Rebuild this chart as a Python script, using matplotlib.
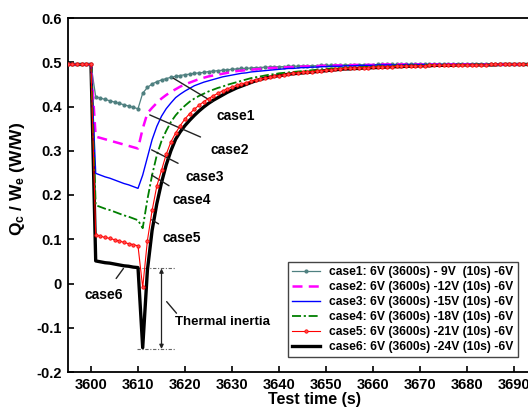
import matplotlib
matplotlib.use("Agg")
import matplotlib.pyplot as plt

plt.rcParams['font.family'] = ['Liberation Sans', 'DejaVu Sans']
plt.rcParams['font.weight'] = 'bold'
plt.rcParams['mathtext.fontset'] = 'custom'
plt.rcParams['mathtext.bf'] = 'Liberation Sans:bold'
plt.rcParams['mathtext.rm'] = 'Liberation Sans:bold'
plt.rcParams['mathtext.default'] = 'bf'

# ---- data ----
time_s = list(range(3595, 3701))

case1 = ([0.495] * 6 +
         [0.422, 0.419, 0.416, 0.413, 0.410, 0.407, 0.404, 0.401, 0.398, 0.395] +
         [0.430, 0.443, 0.451, 0.456, 0.460, 0.463, 0.466, 0.468, 0.470, 0.472,
          0.473, 0.475, 0.476, 0.477, 0.479, 0.480, 0.481, 0.482, 0.483, 0.484,
          0.485, 0.486, 0.486, 0.487, 0.488, 0.488, 0.489, 0.489, 0.490, 0.490] +
         [0.490, 0.491, 0.491, 0.491, 0.492, 0.492, 0.492, 0.492, 0.493, 0.493,
          0.493, 0.493, 0.493, 0.494, 0.494, 0.494, 0.494, 0.494, 0.494, 0.494,
          0.495, 0.495, 0.495, 0.495, 0.495, 0.495, 0.495, 0.495, 0.495, 0.495] +
         [0.495] * 30)

case2 = ([0.495] * 6 +
         [0.332, 0.329, 0.326, 0.323, 0.320, 0.317, 0.314, 0.311, 0.308, 0.305] +
         [0.350, 0.385, 0.397, 0.408, 0.418, 0.426, 0.433, 0.439, 0.445, 0.450,
          0.454, 0.458, 0.462, 0.465, 0.468, 0.470, 0.472, 0.474, 0.476, 0.478,
          0.480, 0.481, 0.482, 0.483, 0.484, 0.485, 0.486, 0.487, 0.487, 0.488] +
         [0.488, 0.489, 0.489, 0.490, 0.490, 0.491, 0.491, 0.491, 0.492, 0.492,
          0.492, 0.493, 0.493, 0.493, 0.493, 0.494, 0.494, 0.494, 0.494, 0.494,
          0.494, 0.495, 0.495, 0.495, 0.495, 0.495, 0.495, 0.495, 0.495, 0.495] +
         [0.495] * 30)

case3 = ([0.495] * 6 +
         [0.249, 0.245, 0.241, 0.238, 0.234, 0.230, 0.226, 0.223, 0.219, 0.215] +
         [0.245, 0.285, 0.325, 0.355, 0.378, 0.395, 0.408, 0.420, 0.428, 0.435,
          0.441, 0.447, 0.451, 0.455, 0.458, 0.461, 0.464, 0.467, 0.469, 0.471,
          0.473, 0.475, 0.476, 0.478, 0.479, 0.480, 0.481, 0.482, 0.483, 0.484] +
         [0.485, 0.486, 0.486, 0.487, 0.488, 0.488, 0.489, 0.489, 0.490, 0.490,
          0.491, 0.491, 0.491, 0.492, 0.492, 0.492, 0.493, 0.493, 0.493, 0.493,
          0.494, 0.494, 0.494, 0.494, 0.494, 0.494, 0.495, 0.495, 0.495, 0.495] +
         [0.495] * 30)

case4 = ([0.495] * 6 +
         [0.177, 0.173, 0.169, 0.166, 0.162, 0.158, 0.154, 0.151, 0.147, 0.143] +
         [0.125, 0.190, 0.245, 0.290, 0.322, 0.345, 0.365, 0.380, 0.392, 0.402,
          0.411, 0.418, 0.424, 0.429, 0.434, 0.438, 0.442, 0.445, 0.449, 0.452,
          0.455, 0.458, 0.461, 0.464, 0.466, 0.468, 0.470, 0.472, 0.473, 0.475] +
         [0.476, 0.477, 0.478, 0.479, 0.480, 0.481, 0.482, 0.483, 0.484, 0.485,
          0.486, 0.486, 0.487, 0.487, 0.488, 0.488, 0.489, 0.489, 0.490, 0.490,
          0.491, 0.491, 0.491, 0.492, 0.492, 0.492, 0.493, 0.493, 0.493, 0.493] +
         [0.494] * 10 + [0.495] * 20)

case5 = ([0.495] * 6 +
         [0.110, 0.107, 0.104, 0.102, 0.099, 0.096, 0.093, 0.090, 0.088, 0.085] +
         [-0.009, 0.097, 0.165, 0.220, 0.256, 0.292, 0.320, 0.340, 0.357, 0.372,
          0.384, 0.394, 0.403, 0.411, 0.418, 0.424, 0.430, 0.435, 0.440, 0.444,
          0.448, 0.451, 0.454, 0.457, 0.460, 0.462, 0.464, 0.466, 0.468, 0.470] +
         [0.472, 0.473, 0.475, 0.476, 0.477, 0.478, 0.479, 0.480, 0.481, 0.482,
          0.483, 0.484, 0.485, 0.486, 0.486, 0.487, 0.487, 0.488, 0.488, 0.489,
          0.489, 0.490, 0.490, 0.490, 0.491, 0.491, 0.491, 0.492, 0.492, 0.492] +
         [0.492, 0.493, 0.493, 0.493, 0.493, 0.493, 0.494, 0.494, 0.494, 0.494,
          0.494, 0.494, 0.494, 0.494, 0.495, 0.495, 0.495, 0.495, 0.495, 0.495,
          0.495, 0.495, 0.495, 0.495, 0.495, 0.495, 0.495, 0.495, 0.495, 0.495])

case6 = ([0.495] * 6 +
         [0.051, 0.049, 0.047, 0.046, 0.044, 0.042, 0.040, 0.039, 0.037, 0.036] +
         [-0.145, 0.030, 0.120, 0.180, 0.228, 0.268, 0.300, 0.326, 0.343, 0.357,
          0.369, 0.380, 0.390, 0.399, 0.407, 0.414, 0.420, 0.426, 0.432, 0.437,
          0.442, 0.446, 0.450, 0.454, 0.458, 0.461, 0.464, 0.466, 0.468, 0.470] +
         [0.471, 0.473, 0.474, 0.475, 0.476, 0.477, 0.478, 0.479, 0.480, 0.481,
          0.482, 0.483, 0.484, 0.485, 0.485, 0.486, 0.486, 0.487, 0.487, 0.488,
          0.488, 0.489, 0.489, 0.490, 0.490, 0.490, 0.491, 0.491, 0.491, 0.492] +
         [0.492, 0.492, 0.493, 0.493, 0.493, 0.493, 0.493, 0.494, 0.494, 0.494,
          0.494, 0.494, 0.494, 0.494, 0.494, 0.494, 0.495, 0.495, 0.495, 0.495,
          0.495, 0.495, 0.495, 0.495, 0.495, 0.495, 0.495, 0.495, 0.495, 0.495])

labels = ["case1: 6V (3600s) - 9V  (10s) -6V",
          "case2: 6V (3600s) -12V (10s) -6V",
          "case3: 6V (3600s) -15V (10s) -6V",
          "case4: 6V (3600s) -18V (10s) -6V",
          "case5: 6V (3600s) -21V (10s) -6V",
          "case6: 6V (3600s) -24V (10s) -6V"]

x_ticks = [3600, 3610, 3620, 3630, 3640, 3650, 3660, 3670, 3680, 3690, 3700]
y_ticks = [-0.2, -0.1, 0, 0.1, 0.2, 0.3, 0.4, 0.5, 0.6]
y_ticklabels = ["-0.2", "-0.1", "0", "0.1", "0.2", "0.3", "0.4", "0.5", "0.6"]

# annotation positions: (label, point on curve, text anchor)
callouts = [("case1", (3617.5, 0.464), (3630.8, 0.379)),
            ("case2", (3612.5, 0.381), (3629.6, 0.302)),
            ("case3", (3612.9, 0.302), (3624.2, 0.241)),
            ("case4", (3612.9, 0.245), (3621.5, 0.189)),
            ("case5", (3612.9, 0.144), (3619.4, 0.103)),
            ("case6", (3606.9, 0.034), (3602.8, -0.026))]
inertia_top = 0.034
inertia_bottom = -0.148

# ---- figure ----
fig = plt.figure(figsize=(5.28, 4.12), dpi=100)
ax = fig.add_axes([67.5 / 528, 40 / 412, 493.5 / 528, 354 / 412])

ax.plot(time_s, case6, color='black', lw=2.4, zorder=2, label=labels[5])
ax.plot(time_s, case1, color='#4f8080', lw=0.9, marker='o', ms=2.0,
        zorder=3, label=labels[0])
ax.plot(time_s, case2, color='#ff00ff', lw=1.8, ls=(0, (4, 2.5)), zorder=3, label=labels[1])
ax.plot(time_s, case3, color='#0000ff', lw=1.0, zorder=3, label=labels[2])
ax.plot(time_s, case4, color='#007f00', lw=1.3, ls=(0, (5, 1.5, 1.2, 1.5)), zorder=3, label=labels[3])
ax.plot(time_s, case5, color='#ff0000', lw=0.8, marker='o', ms=2.4,
        mfc='#ff5050', mew=0.6, zorder=4, label=labels[4])

ax.set_xlim(3595, 3700)
ax.set_ylim(-0.2, 0.6)
ax.set_xticks(x_ticks)
ax.set_yticks(y_ticks)
ax.set_yticklabels(y_ticklabels)
ax.tick_params(direction='in', length=4, width=1.2, labelsize=10.5, pad=4)
for lab in ax.get_xticklabels() + ax.get_yticklabels():
    lab.set_fontweight('bold')
for sp in ax.spines.values():
    sp.set_linewidth(1.3)

ax.set_xlabel("Test time (s)", fontsize=11.5, fontweight='bold', labelpad=0)
ax.set_ylabel(r"Q$_c$ / W$_e$ (W/W)", fontsize=12.5, fontweight='bold')
ax.yaxis.set_label_coords(-0.082, 0.545)

for name, pt, txt in callouts:
    ax.annotate(name, xy=pt, xytext=txt, fontsize=10, fontweight='bold',
                ha='center', va='center',
                arrowprops=dict(arrowstyle='-', color='#222222', lw=1.0,
                                shrinkA=6, shrinkB=0))

# thermal inertia marker
ax.plot([3609.7, 3617.8], [inertia_top, inertia_top], color='#666666', lw=0.8,
        ls=(0, (3, 1.5, 1, 1.5)), zorder=1)
ax.plot([3609.7, 3617.8], [inertia_bottom, inertia_bottom], color='#666666', lw=0.8,
        ls=(0, (3, 1.5, 1, 1.5)), zorder=1)
ax.annotate("", xy=(3615.0, inertia_bottom), xytext=(3615.0, inertia_top),
            arrowprops=dict(arrowstyle='<|-|>', color='#222222', lw=0.9,
                            mutation_scale=6, shrinkA=0, shrinkB=0))
ax.annotate("Thermal inertia", xy=(3616.1, -0.041), xytext=(3617.9, -0.087),
            fontsize=9.5, fontweight='bold', ha='left', va='center',
            arrowprops=dict(arrowstyle='-', color='#222222', lw=1.0,
                            shrinkA=0, shrinkB=0, relpos=(0.05, 0.9)))

handles, labs = ax.get_legend_handles_labels()
order = [1, 2, 3, 4, 5, 0]
leg = ax.legend([handles[i] for i in order], [labs[i] for i in order],
                loc='lower right', bbox_to_anchor=(0.913, 0.042),
                prop={'weight': 'bold', 'size': 8.7},
                fancybox=False, framealpha=1, edgecolor='#444444',
                handlelength=2.3, handletextpad=0.8, labelspacing=0.25,
                borderpad=0.35, borderaxespad=0)
leg.get_frame().set_linewidth(1.0)

fig.savefig("out.png", dpi=100)
